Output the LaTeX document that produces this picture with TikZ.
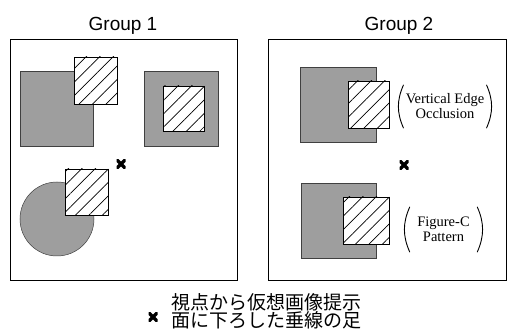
\documentclass[tikz,border=0pt]{standalone}
\usepackage{fontspec}
\setmainfont{Liberation Serif}
\newfontfamily\grpfont{Liberation Sans}
\newfontfamily\jpfont{Noto Sans CJK JP}
\usetikzlibrary{positioning,patterns.meta,shapes.misc}
\tikzset{
frame/.style={draw, line width=0.8pt},
stipple/.style={draw=black!75, fill=black!38, line width=0.5pt},
hatched/.style={draw, line width=0.8pt, preaction={fill=white},
  pattern={Lines[angle=45,distance=9.5pt,line width=0.7pt]}},
viewmark/.style={minimum size=9pt, inner sep=0pt,
  path picture={\draw[line width=3.2pt]
    (path picture bounding box.south west) -- (path picture bounding box.north east)
    (path picture bounding box.north west) -- (path picture bounding box.south east);}},
grouptitle/.style={font=\grpfont\fontsize{19}{19}\selectfont, inner sep=0pt},
caselabel/.style={font=\fontsize{14.5}{15}\selectfont, align=center,
  inner xsep=4pt, inner ysep=0pt},
paren/.style={line width=0.9pt},
jpline/.style={font=\jpfont\fontsize{19}{19}\selectfont, inner sep=0pt},
}

\begin{document}
\begin{tikzpicture}[x=1pt, y=-1pt]
    \useasboundingbox (0,0) rectangle (509,331);

    % group 1
    \node[grouptitle, anchor=base] (t1) at (123,31) {Group 1};
    \draw[frame] (10,39) rectangle (237,280);

    \draw[stipple] (20,71) rectangle (93,146);
    \draw[hatched] (74,57) rectangle (117,104);

    \draw[stipple] (144,71) rectangle (218,146);
    \draw[hatched] (163,86) rectangle (204,131);

    \draw[stipple] (57,219) circle (37);
    \draw[hatched] (65,169) rectangle (108,215);

    \node[viewmark] (x1) at (121,164) {};

    % group 2
    \node[grouptitle, anchor=base] (t2) at (399,31) {Group 2};
    \draw[frame] (268,39) rectangle (506,280);

    \draw[stipple] (300,67) rectangle (376,142);
    \draw[hatched] (348,81) rectangle (389,128);
    \node[caselabel, minimum width=84pt, minimum height=43pt] (veo) at (445,106.5)
        {Vertical Edge\\Occlusion};
    \draw[paren] ([xshift=2pt]veo.north west) to[bend right=24] ([xshift=2pt]veo.south west);
    \draw[paren] ([xshift=-2pt]veo.north east) to[bend left=24] ([xshift=-2pt]veo.south east);

    \node[viewmark] (x2) at (404,165) {};

    \draw[stipple] (301,183) rectangle (376,258);
    \draw[hatched] (343,197) rectangle (389,244);
    \node[caselabel, minimum width=71pt, minimum height=45pt] (fcp) at (443.5,229.5)
        {Figure-C\\Pattern};
    \draw[paren] ([xshift=2pt]fcp.north west) to[bend right=24] ([xshift=2pt]fcp.south west);
    \draw[paren] ([xshift=-2pt]fcp.north east) to[bend left=24] ([xshift=-2pt]fcp.south east);

    % key
    \node[viewmark] (xk) at (153,317) {};
    \node[jpline, anchor=base west] (jp1) at (171,309.5) {視点から仮想画像提示};
    \node[jpline, anchor=base west] (jp2) at (171,327.5) {面に下ろした垂線の足};

\end{tikzpicture}
\end{document}
